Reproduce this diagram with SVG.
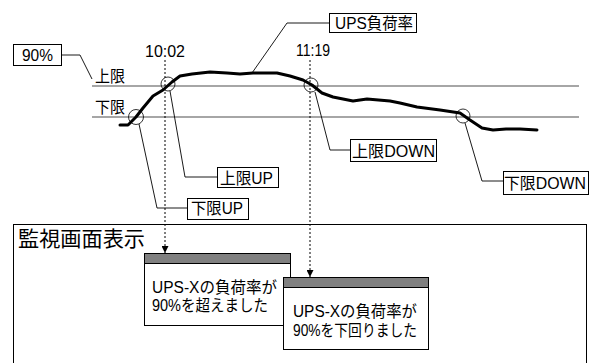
<svg xmlns="http://www.w3.org/2000/svg" width="593" height="363" viewBox="0 0 593 363">
<defs>
<style>
text{font-family:"Liberation Sans","Noto Sans CJK JP",sans-serif;fill:#000}
.t{font-size:16px}
.box{fill:#fff;stroke:#000;stroke-width:1}
.lead{fill:none;stroke:#000;stroke-width:0.9}
.thr{stroke:#888;stroke-width:1.5}
.dash{stroke:#000;stroke-width:1;stroke-dasharray:2 2;fill:none}
.circ{fill:none;stroke:#000;stroke-width:0.8}
.hdr{fill:#808080;stroke:#000;stroke-width:1}
</style>
<marker id="arr" viewBox="0 0 8 8" refX="8" refY="4" markerWidth="7" markerHeight="7" markerUnits="userSpaceOnUse" orient="auto">
<path d="M0,0 L8,4 L0,8 z" fill="#000"/>
</marker>
</defs>

<g id="monitor">
<rect class="box" x="13.5" y="224.5" width="573" height="160"/>
<text x="18" y="246" style="font-size:21px" textLength="127" lengthAdjust="spacingAndGlyphs">監視画面表示</text>
</g>

<g id="thresholds">
<line class="thr" x1="92" y1="86" x2="579" y2="86"/>
<line class="thr" x1="92" y1="117" x2="579" y2="117"/>
<text class="t" x="95" y="82" textLength="30" lengthAdjust="spacingAndGlyphs">上限</text>
<text class="t" x="95" y="113" textLength="30" lengthAdjust="spacingAndGlyphs">下限</text>
</g>

<g id="curve">
<polyline fill="none" stroke="#000" stroke-width="3" stroke-linejoin="round" stroke-linecap="round" points="120,125 128,125 136,117 143,108 153,96 163,90 172,82 180,76 192,74 210,72 227,73 240,74 253,73 277,73 290,76 303,80 312,85 322,93 333,97 353,101 367,99 390,101 400,103 417,107 440,110 460,113 470,120 482,128 493,130 506,129 520,129 537,130"/>
</g>

<g id="time-1002">
<text class="t" x="145" y="57" textLength="40" lengthAdjust="spacingAndGlyphs">10:02</text>
</g>
<g id="time-1119">
<text class="t" x="296" y="56" textLength="34" lengthAdjust="spacingAndGlyphs">11:19</text>
</g>

<g id="circles">
<circle class="circ" cx="168" cy="84" r="7"/>
<circle class="circ" cx="136" cy="117" r="7.5"/>
<circle class="circ" cx="311" cy="85" r="7"/>
<circle class="circ" cx="463" cy="116" r="7"/>
</g>

<g id="label-90">
<rect class="box" x="13.5" y="44.5" width="48" height="21"/>
<text class="t" x="22" y="61" textLength="31" lengthAdjust="spacingAndGlyphs">90%</text>
</g>
<g id="label-ups">
<rect class="box" x="329.5" y="13.5" width="87" height="19"/>
<text class="t" x="335" y="29" textLength="78" lengthAdjust="spacingAndGlyphs">UPS負荷率</text>
</g>
<g id="label-upper-up">
<rect class="box" x="217.5" y="167.5" width="61" height="20"/>
<text class="t" x="220" y="184" textLength="53" lengthAdjust="spacingAndGlyphs">上限UP</text>
</g>
<g id="label-lower-up">
<rect class="box" x="187.5" y="198.5" width="61" height="21"/>
<text class="t" x="191" y="214" textLength="52" lengthAdjust="spacingAndGlyphs">下限UP</text>
</g>
<g id="label-upper-down">
<rect class="box" x="350.5" y="139.5" width="86" height="22"/>
<text class="t" x="352" y="157" textLength="83" lengthAdjust="spacingAndGlyphs">上限DOWN</text>
</g>
<g id="label-lower-down">
<rect class="box" x="503.5" y="171.5" width="85" height="23"/>
<text class="t" x="504" y="189" textLength="82" lengthAdjust="spacingAndGlyphs">下限DOWN</text>
</g>

<g id="popup-1">
<rect class="box" x="144.5" y="253.5" width="146" height="72"/>
<rect class="hdr" x="144.5" y="253.5" width="146" height="10"/>
<text class="t" x="152" y="293" textLength="125" lengthAdjust="spacingAndGlyphs">UPS-Xの負荷率が</text>
<text class="t" x="152" y="311" textLength="116" lengthAdjust="spacingAndGlyphs">90%を超えました</text>
</g>
<g id="popup-2">
<rect class="box" x="283.5" y="277.5" width="145" height="72"/>
<rect class="hdr" x="283.5" y="277.5" width="145" height="10"/>
<text class="t" x="293" y="317" textLength="124" lengthAdjust="spacingAndGlyphs">UPS-Xの負荷率が</text>
<text class="t" x="293" y="336" textLength="124" lengthAdjust="spacingAndGlyphs">90%を下回りました</text>
</g>

<g id="connectors">
<polyline class="lead" points="62,55 80,55 92,79"/>
<polyline class="lead" points="252,73 287,23 329,23"/>
<polyline class="lead" points="170,91 185,177 217,177"/>
<polyline class="lead" points="139,124 157,208 187,208"/>
<polyline class="lead" points="315,92 330,150 350,150"/>
<polyline class="lead" points="465,123 482,181 503,181"/>
<line class="dash" x1="165" y1="60" x2="165" y2="253" marker-end="url(#arr)"/>
<line class="dash" x1="310" y1="60" x2="310" y2="277" marker-end="url(#arr)"/>
</g>
</svg>
